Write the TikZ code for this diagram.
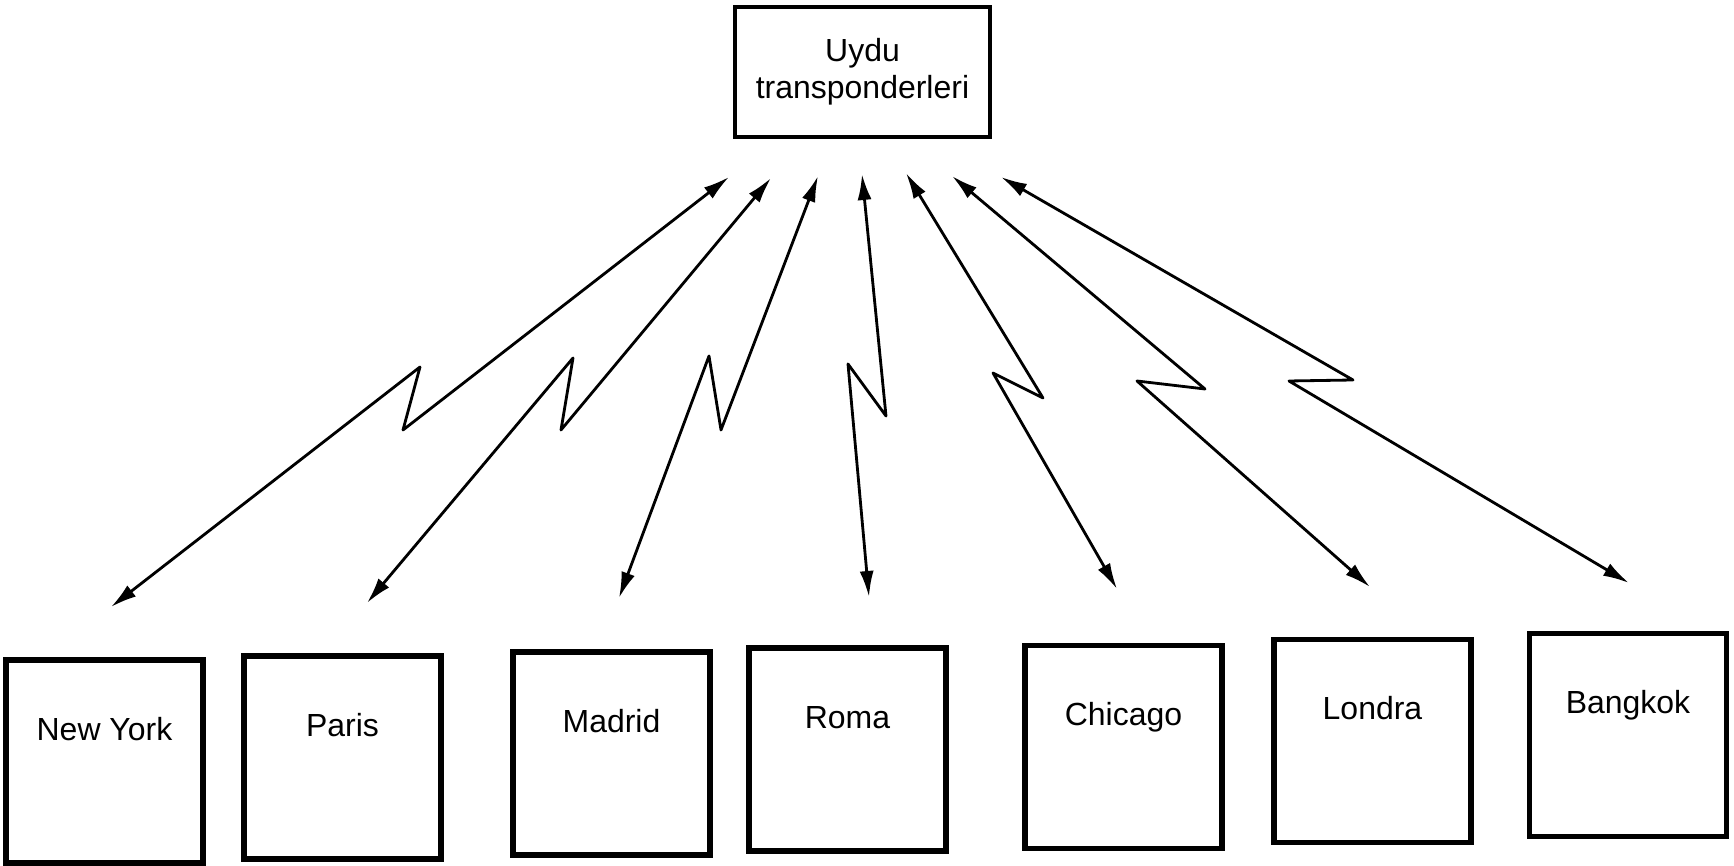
\documentclass[tikz,border=0pt]{standalone}
\usepackage{fontspec}
\setmainfont{Liberation Sans}
\usetikzlibrary{arrows.meta}
\def\bolt(#1)(#2)(#3)(#4){\draw[radio] (#1) -- (#2) -- (#3) -- (#4);}
\tikzset{
	citybox/.style={draw, line width=1.5pt, minimum width=1.97cm, minimum height=2.03cm,
		inner sep=0pt, text height=0.2cm, text depth=0.62cm, font=\fontsize{9.1}{11}\selectfont},
	satbox/.style={draw, line width=1.3pt, minimum width=2.55cm, minimum height=1.30cm,
		align=center, font=\fontsize{9.1}{10.5}\selectfont},
	radio/.style={line width=0.8pt, line join=round,
		{Latex[length=2.6mm,width=1.4mm]}-{Latex[length=2.6mm,width=1.4mm]}}
}

\begin{document}
\begin{tikzpicture}
				\useasboundingbox (0,0) rectangle (17.34,8.66);
				
				\node[satbox] (sat) at (8.625,7.94) {Uydu\\transponderleri};
				
				\node[citybox] (ny) at (1.045,1.045) {New York};
				\node[citybox] (paris) at (3.425,1.085) {Paris};
				\node[citybox] (madrid) at (6.115,1.125) {Madrid};
				\node[citybox] (roma) at (8.475,1.165) {Roma};
				\node[citybox] (chicago) at (11.235,1.19) {Chicago};
				\node[citybox] (londra) at (13.725,1.25) {Londra};
				\node[citybox] (bangkok) at (16.28,1.31) {Bangkok};
				
				% links: top tip, zig, zag, bottom tip
				\coordinate (ny-t) at (7.29,6.89);    \coordinate (ny-a) at (4.03,4.36);
				\coordinate (ny-b) at (4.20,4.99);    \coordinate (ny-e) at (1.11,2.59);
				\coordinate (pa-t) at (7.71,6.88);    \coordinate (pa-a) at (5.61,4.36);
				\coordinate (pa-b) at (5.73,5.08);    \coordinate (pa-e) at (3.67,2.63);
				\coordinate (ma-t) at (8.18,6.90);    \coordinate (ma-a) at (7.21,4.36);
				\coordinate (ma-b) at (7.09,5.10);    \coordinate (ma-e) at (6.19,2.68);
				\coordinate (ro-t) at (8.62,6.92);    \coordinate (ro-a) at (8.86,4.50);
				\coordinate (ro-b) at (8.48,5.02);    \coordinate (ro-e) at (8.69,2.69);
				\coordinate (ch-t) at (9.06,6.93);    \coordinate (ch-a) at (10.43,4.68);
				\coordinate (ch-b) at (9.93,4.93);    \coordinate (ch-e) at (11.17,2.77);
				\coordinate (lo-t) at (9.52,6.90);    \coordinate (lo-a) at (12.05,4.77);
				\coordinate (lo-b) at (11.37,4.85);   \coordinate (lo-e) at (13.70,2.79);
				\coordinate (ba-t) at (10.01,6.89);   \coordinate (ba-a) at (13.53,4.86);
				\coordinate (ba-b) at (12.89,4.85);   \coordinate (ba-e) at (16.29,2.83);
				
				\bolt(ny-t)(ny-a)(ny-b)(ny-e)
				\bolt(pa-t)(pa-a)(pa-b)(pa-e)
				\bolt(ma-t)(ma-a)(ma-b)(ma-e)
				\bolt(ro-t)(ro-a)(ro-b)(ro-e)
				\bolt(ch-t)(ch-a)(ch-b)(ch-e)
				\bolt(lo-t)(lo-a)(lo-b)(lo-e)
				\bolt(ba-t)(ba-a)(ba-b)(ba-e)
			\end{tikzpicture}
\end{document}
